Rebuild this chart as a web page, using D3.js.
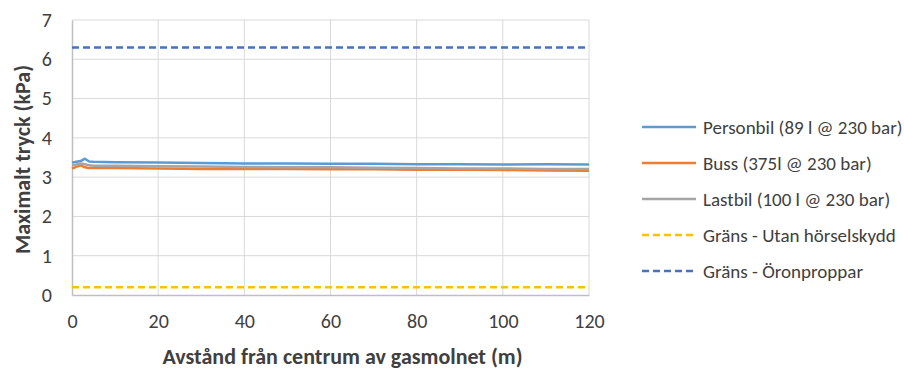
<!DOCTYPE html>
<html>
<head>
<meta charset="utf-8">
<script src="https://cdn.jsdelivr.net/npm/d3@7"></script>
<style>
  html, body { margin: 0; padding: 0; background: #fff; }
  text { font-family: Carlito, Calibri, "Open Sans", "Liberation Sans", sans-serif; fill: #404040; }
</style>
</head>
<body>
<svg id="chart" width="904" height="374"></svg>
<script>
// Distance from the cloud centre (m)
const distance = [0, 1, 2, 3, 4, 5, 10, 20, 30, 40, 50, 60, 70, 80, 90, 100, 110, 120];
// Maximum overpressure (kPa) per vehicle type
const personbil = [3.37, 3.39, 3.41, 3.47, 3.40, 3.39, 3.38, 3.37, 3.36, 3.35, 3.35, 3.34, 3.34, 3.33, 3.33, 3.32, 3.33, 3.32];
const buss      = [3.22, 3.26, 3.30, 3.25, 3.23, 3.23, 3.23, 3.22, 3.21, 3.21, 3.21, 3.20, 3.20, 3.19, 3.19, 3.18, 3.17, 3.16];
const lastbil   = [3.30, 3.32, 3.35, 3.33, 3.30, 3.29, 3.29, 3.28, 3.27, 3.26, 3.25, 3.25, 3.24, 3.23, 3.22, 3.22, 3.21, 3.21];
// Threshold limits (kPa)
const gransUtan = 0.2;
const gransOron = 6.3;

const xTicks = [0, 20, 40, 60, 80, 100, 120];
const yTicks = [0, 1, 2, 3, 4, 5, 6, 7];

const series = [
  { name: "Personbil (89 l @ 230 bar)", values: personbil, color: "#5B9BD5", dash: null },
  { name: "Buss (375l @ 230 bar)", values: buss, color: "#ED7D31", dash: null },
  { name: "Lastbil (100 l @ 230 bar)", values: lastbil, color: "#A5A5A5", dash: null }
];
const limits = [
  { name: "Gräns - Utan hörselskydd", value: gransUtan, color: "#FFC000", dash: "7,4" },
  { name: "Gräns - Öronproppar", value: gransOron, color: "#4472C4", dash: "7,4" }
];

const svg = d3.select("#chart");
const m = { left: 72, right: 589, top: 20, bottom: 295 };
const x = d3.scaleLinear().domain([0, 120]).range([m.left, m.right]);
const y = d3.scaleLinear().domain([0, 7]).range([m.bottom, m.top]);

// gridlines
svg.append("g").selectAll("line").data(yTicks.slice(1)).join("line")
  .attr("x1", m.left).attr("x2", m.right)
  .attr("y1", d => y(d)).attr("y2", d => y(d))
  .attr("stroke", "#d9d9d9").attr("stroke-width", 1);
svg.append("g").selectAll("line").data(xTicks.slice(1)).join("line")
  .attr("x1", d => x(d)).attr("x2", d => x(d))
  .attr("y1", m.top).attr("y2", m.bottom)
  .attr("stroke", "#d9d9d9").attr("stroke-width", 1);

// axes
const xAxis = svg.append("g").attr("transform", `translate(0,${m.bottom})`)
  .call(d3.axisBottom(x).tickValues(xTicks).tickSize(0).tickPadding(19).tickFormat(d3.format("d")));
const yAxis = svg.append("g").attr("transform", `translate(${m.left},0)`)
  .call(d3.axisLeft(y).tickValues(yTicks).tickSize(0).tickPadding(20).tickFormat(d3.format("d")));
[xAxis, yAxis].forEach(a => {
  a.select(".domain").attr("stroke", "#bfbfbf").attr("stroke-width", 1.5);
  a.selectAll("text").style("font-size", "20px").attr("fill", "#404040");
});

// data lines
const line = d3.line().x((d, i) => x(distance[i])).y(d => y(d));
series.forEach(s => {
  svg.append("path").datum(s.values)
    .attr("d", line).attr("fill", "none")
    .attr("stroke", s.color).attr("stroke-width", 2.5)
    .attr("stroke-linejoin", "round");
});
limits.forEach(l => {
  svg.append("line")
    .attr("x1", x(0)).attr("x2", x(120))
    .attr("y1", y(l.value)).attr("y2", y(l.value))
    .attr("stroke", l.color).attr("stroke-width", 2.5)
    .attr("stroke-dasharray", l.dash);
});

// axis titles
svg.append("text").attr("x", (m.left + m.right) / 2 + 12).attr("y", 364)
  .attr("text-anchor", "middle").style("font-size", "22px").style("font-weight", "bold")
  .attr("fill", "#262626").text("Avstånd från centrum av gasmolnet (m)");
svg.append("text").attr("transform", `translate(30,${(m.top + m.bottom) / 2 + 2}) rotate(-90)`)
  .attr("text-anchor", "middle").style("font-size", "22px").style("font-weight", "bold")
  .attr("fill", "#262626").text("Maximalt tryck (kPa)");

// legend
const legendItems = series.concat(limits);
const lg = svg.append("g").selectAll("g").data(legendItems).join("g")
  .attr("transform", (d, i) => `translate(642,${127 + i * 36})`);
lg.append("line").attr("x1", 0).attr("x2", 54).attr("y1", 0).attr("y2", 0)
  .attr("stroke", d => d.color).attr("stroke-width", 2.5)
  .attr("stroke-dasharray", d => d.dash);
lg.append("text").attr("x", 61).attr("y", 6.5)
  .style("font-size", "19px").attr("fill", "#404040").text(d => d.name);
</script>
</body>
</html>
